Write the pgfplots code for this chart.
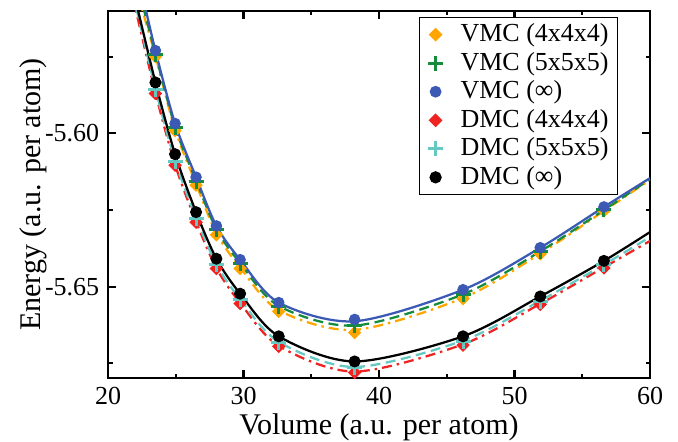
\documentclass[border=0pt]{standalone}
\usepackage{fontspec}
\setmainfont{Liberation Serif}
\usepackage{pgfplots}
\usepackage{pgfplotstable}
\pgfplotsset{compat=1.18}

\definecolor{corange}{RGB}{255,165,0}
\definecolor{cgreen}{RGB}{20,140,60}
\definecolor{cblue}{RGB}{60,90,180}
\definecolor{cred}{RGB}{240,35,35}
\definecolor{ccyan}{RGB}{100,200,195}

% markers
\pgfplotstableread{
V E
23.5  -5.5750
24.95 -5.5991
26.5  -5.6169
28.0  -5.6331
29.75 -5.6441
32.6  -5.6581
38.2  -5.6650
46.2  -5.6539
51.9  -5.6393
56.6  -5.6253
}\vmcfour
\pgfplotstableread{
V E
23.5  -5.5743
24.95 -5.5981
26.5  -5.6156
28.0  -5.6315
29.75 -5.6425
32.6  -5.6565
38.2  -5.6627
46.2  -5.6526
51.9  -5.6386
56.6  -5.6250
}\vmcfive
\pgfplotstableread{
V E
23.5  -5.5730
24.95 -5.5968
26.5  -5.6143
28.0  -5.6302
29.75 -5.6412
32.6  -5.6552
38.2  -5.6607
46.2  -5.6510
51.9  -5.6373
56.6  -5.6240
}\vmcinf
\pgfplotstableread{
V E
23.5  -5.5870
24.95 -5.6104
26.5  -5.6290
28.0  -5.6441
29.75 -5.6555
32.6  -5.6695
38.2  -5.6780
46.2  -5.6691
51.9  -5.6558
56.6  -5.6439
}\dmcfour
\pgfplotstableread{
V E
23.5  -5.5857
24.95 -5.6091
26.5  -5.6277
28.0  -5.6429
29.75 -5.6543
32.6  -5.6682
38.2  -5.6764
46.2  -5.6678
51.9  -5.6548
56.6  -5.6429
}\dmcfive
\pgfplotstableread{
V E
23.5  -5.5834
24.95 -5.6068
26.5  -5.6257
28.0  -5.6409
29.75 -5.6523
32.6  -5.6662
38.2  -5.6744
46.2  -5.6662
51.9  -5.6532
56.6  -5.6416
}\dmcinf

% fitted curves
\pgfplotstableread{
V E
22.2  -5.5546
23.5  -5.5748
24.95 -5.5988
26.5  -5.6165
28.0  -5.6326
29.75 -5.6437
32.6  -5.6577
38.2  -5.6641
46.2  -5.6537
51.9  -5.6392
56.6  -5.6253
60.0  -5.6152
}\cvmcfour
\pgfplotstableread{
V E
22.3  -5.5537
23.5  -5.5741
24.95 -5.5979
26.5  -5.6154
28.0  -5.6313
29.75 -5.6423
32.6  -5.6563
38.2  -5.6627
46.2  -5.6525
51.9  -5.6385
56.6  -5.6250
60.0  -5.6149
}\cvmcfive
\pgfplotstableread{
V E
22.5  -5.5540
23.5  -5.5730
24.95 -5.5968
26.5  -5.6143
28.0  -5.6302
29.75 -5.6412
32.6  -5.6552
38.2  -5.6613
46.2  -5.6510
51.9  -5.6373
56.6  -5.6240
60.0  -5.6146
}\cvmcinf
\pgfplotstableread{
V E
21.8  -5.5550
23.5  -5.5868
24.95 -5.6102
26.5  -5.6288
28.0  -5.6440
29.75 -5.6553
32.6  -5.6693
38.2  -5.6777
46.2  -5.6688
51.9  -5.6556
56.6  -5.6437
60.0  -5.6351
}\cdmcfour
\pgfplotstableread{
V E
21.85 -5.5545
23.5  -5.5855
24.95 -5.6089
26.5  -5.6275
28.0  -5.6427
29.75 -5.6541
32.6  -5.6680
38.2  -5.6762
46.2  -5.6676
51.9  -5.6546
56.6  -5.6428
60.0  -5.6338
}\cdmcfive
\pgfplotstableread{
V E
21.9  -5.5540
23.5  -5.5834
24.95 -5.6068
26.5  -5.6257
28.0  -5.6409
29.75 -5.6523
32.6  -5.6662
38.2  -5.6744
46.2  -5.6662
51.9  -5.6532
56.6  -5.6416
60.0  -5.6322
}\cdmcinf

\begin{document}
\begin{tikzpicture}
\begin{axis}[
    width=216.8pt, height=146.8pt, scale only axis,
    xmin=20, xmax=60,
    ymin=-5.6798, ymax=-5.5601,
    xtick={20,30,40,50,60},
    minor xtick={25,35,45,55},
    ytick={-5.65,-5.60},
    minor ytick={-5.675,-5.625,-5.575},
    xtick pos=both, ytick pos=both,
    tick align=inside,
    major tick length=3.2pt, minor tick length=1.8pt,
    every tick/.style={black, line width=0.9pt},
    axis line style={line width=1.1pt},
    /pgf/number format/assume math mode=true,
    yticklabel style={/pgf/number format/.cd, fixed, precision=2, fixed zerofill},
    ticklabel style={font=\fontsize{10.4}{12}\selectfont},
    xlabel={Volume (a.u. per atom)},
    ylabel={Energy (a.u. per atom)},
    label style={font=\fontsize{12}{14}\selectfont},
    xlabel style={at={(axis description cs:0.5,-0.155)}, anchor=base},
    ylabel style={at={(axis description cs:-0.125,0.5)}, anchor=base},
    legend style={at={(rel axis cs:0.941,0.984)}, anchor=north east,
        draw=black, line width=0.5pt,
        font=\fontsize{10.4}{12}\selectfont,
        row sep=-1.3pt, inner xsep=1.5pt, inner ysep=0.5pt},
    legend image code/.code={%
        \path[draw=none, fill=none] (0pt,0pt) -- (12.8pt,0pt);
        \draw[#1, only marks] plot coordinates {(4.8pt,0pt)};},
    legend cell align=left,
    clip=true,
]
% curves
\addplot[forget plot, corange, line width=0.9pt, dash pattern=on 4pt off 2pt on 1pt off 2pt, smooth] table {\cvmcfour};
\addplot[forget plot, cgreen, line width=0.9pt, dash pattern=on 4pt off 2.2pt, smooth] table {\cvmcfive};
\addplot[forget plot, cblue, line width=0.9pt, smooth] table {\cvmcinf};
\addplot[forget plot, cred, line width=0.9pt, dash pattern=on 4pt off 2pt on 1pt off 2pt, smooth] table {\cdmcfour};
\addplot[forget plot, ccyan, line width=0.9pt, dash pattern=on 4pt off 2.2pt, smooth] table {\cdmcfive};
\addplot[forget plot, black, line width=0.9pt, smooth] table {\cdmcinf};
% markers
\addplot[only marks, mark=square*, mark size=1.7pt, mark options={rotate=45, fill=corange, draw=corange}] table {\vmcfour};
\addlegendentry{VMC (4x4x4)}
\addplot[only marks, mark=+, mark size=3pt, mark options={draw=cgreen, line width=1.2pt}] table {\vmcfive};
\addlegendentry{VMC (5x5x5)}
\addplot[only marks, mark=*, mark size=2.1pt, mark options={fill=cblue, draw=cblue}] table {\vmcinf};
\addlegendentry{VMC (∞)}
\addplot[only marks, mark=square*, mark size=1.7pt, mark options={rotate=45, fill=cred, draw=cred}] table {\dmcfour};
\addlegendentry{DMC (4x4x4)}
\addplot[only marks, mark=+, mark size=3pt, mark options={draw=ccyan, line width=1.2pt}] table {\dmcfive};
\addlegendentry{DMC (5x5x5)}
\addplot[only marks, mark=*, mark size=2.2pt, mark options={fill=black, draw=black}] table {\dmcinf};
\addlegendentry{DMC (∞)}
\end{axis}
\pgfresetboundingbox
\useasboundingbox ([xshift=-43.2pt,yshift=-25.2pt]current axis.south west)
    rectangle ([xshift=11.2pt,yshift=4.4pt]current axis.north east);
\end{tikzpicture}
\end{document}
